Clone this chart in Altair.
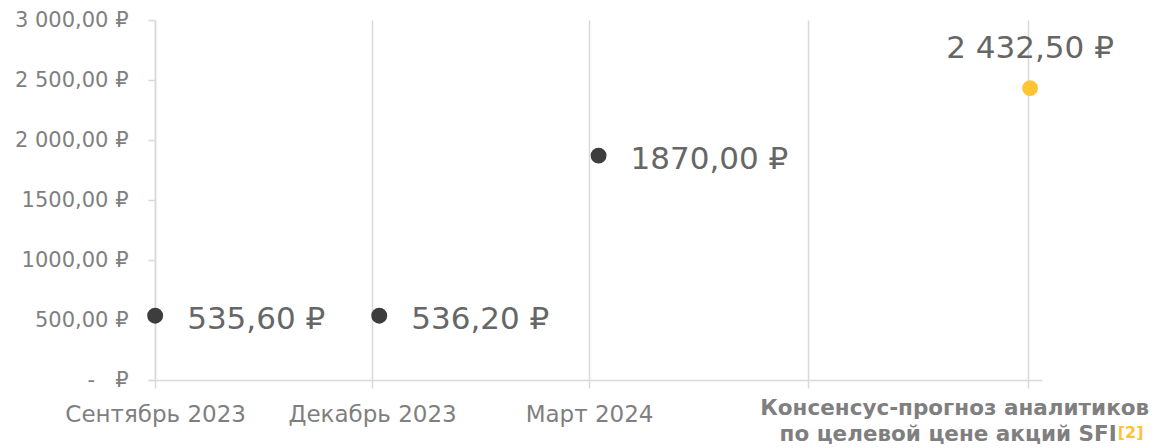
import altair as alt
import pandas as pd

# ---- data ----
dates = ["2023-09-01", "2023-12-04", "2024-03-05", "2024-09-02"]
prices = [535.60, 536.20, 1870.00, 2432.50]
price_labels = ["535,60 ₽", "536,20 ₽", "1870,00 ₽", "2 432,50 ₽"]
kinds = ["fact", "fact", "fact", "forecast"]

x_tick_dates = ["2023-09-01", "2023-12-01", "2024-03-01", "2024-06-01", "2024-09-01"]
x_tick_labels = ["Сентябрь 2023", "Декабрь 2023", "Март 2024", "", ""]
x_domain = ["2023-08-29", "2024-09-07"]

y_tick_values = [0, 500, 1000, 1500, 2000, 2500, 3000]
y_tick_labels = ["-\u00a0\u00a0\u00a0₽", "500,00 ₽", "1000,00 ₽", "1500,00 ₽",
                 "2 000,00 ₽", "2 500,00 ₽", "3 000,00 ₽"]

consensus_lines = ["Консенсус-прогноз аналитиков", "по целевой цене акций SFI"]
footnote = "[2]"

FONT = "DejaVu Sans"
GRID = "#d9d9d9"
YELLOW = "#FFC433"
DARK = "#3d3d3d"


def ms(d):
    return int(pd.Timestamp(d, tz="UTC").timestamp() * 1000)


tick_ms = [ms(d) for d in x_tick_dates]
x_label_expr = "".join(
    f"time(datum.value) == {t} ? '{l}' : " for t, l in zip(tick_ms, x_tick_labels)
) + "''"
y_label_expr = "".join(
    f"datum.value == {v} ? '{l}' : " for v, l in zip(y_tick_values, y_tick_labels)
) + "''"

df = pd.DataFrame({"date": dates, "price": prices, "label": price_labels, "kind": kinds})

x_scale = alt.Scale(type="utc", domain=[ms(d) for d in x_domain])
x_axis = alt.Axis(
    values=tick_ms, labelExpr=x_label_expr, title=None,
    grid=True, gridColor=GRID, gridWidth=1.5,
    domainColor=GRID, domainWidth=1.5,
    tickColor=GRID, tickWidth=1.5, tickSize=8,
    labelFont=FONT, labelFontSize=23, labelColor="#7f7f7f",
    labelPadding=15, labelFlush=False, labelOverlap=False, labelLimit=0,
)
y_axis = alt.Axis(
    values=y_tick_values, labelExpr=y_label_expr, title=None,
    grid=False, domainColor=GRID, domainWidth=1.5,
    tickColor=GRID, tickWidth=1.5, tickSize=7, offset=-7,
    labelFont=FONT, labelFontSize=21, labelColor="#7f7f7f",
    labelPadding=20, labelOverlap=False, labelLimit=0,
)

x_enc = alt.X("date:T", scale=x_scale, axis=x_axis)
y_enc = alt.Y("price:Q", scale=alt.Scale(domain=[0, 3000]), axis=y_axis)

base = alt.Chart(df)

points = base.mark_circle(size=254, opacity=1).encode(
    x=x_enc, y=y_enc,
    color=alt.Color("kind:N", scale=alt.Scale(domain=["fact", "forecast"], range=[DARK, YELLOW]),
                    legend=None),
)

fact_labels = base.transform_filter(alt.datum.kind == "fact").mark_text(
    align="left", baseline="alphabetic", dx=32, dy=13,
    font=FONT, fontSize=31, color="#666666",
).encode(x=x_enc, y=y_enc, text="label:N")

forecast_labels = base.transform_filter(alt.datum.kind == "forecast").mark_text(
    align="center", baseline="alphabetic", dy=-30,
    font=FONT, fontSize=31, color="#666666",
).encode(x=x_enc, y=y_enc, text="label:N")

cons_df = pd.DataFrame({"date": [x_tick_dates[-1]], "l1": [consensus_lines[0]],
                        "l2": [consensus_lines[1]], "fn": [footnote]})
cons = alt.Chart(cons_df)
cons1 = cons.mark_text(align="center", baseline="alphabetic", dx=-73,
                       font=FONT, fontSize=21.5, fontWeight="bold", color="#7f7f7f").encode(
    x=x_enc, y=alt.value(395), text="l1:N")
cons2 = cons.mark_text(align="right", baseline="alphabetic", dx=89,
                       font=FONT, fontSize=21.5, fontWeight="bold", color="#7f7f7f").encode(
    x=x_enc, y=alt.value(421), text="l2:N")
cons3 = cons.mark_text(align="left", baseline="alphabetic", dx=90,
                       font=FONT, fontSize=16, fontWeight="bold", color=YELLOW).encode(
    x=x_enc, y=alt.value(418), text="fn:N")

chart = alt.layer(points, fact_labels, forecast_labels, cons1, cons2, cons3).properties(
    width=894, height=360,
    autosize=alt.AutoSizeParams(type="none"),
    padding={"left": 140, "top": 12, "right": 115, "bottom": 68},
    background="white",
).configure_view(stroke=None)

chart.save("out.html", embed_options={"renderer": "svg", "actions": False})
